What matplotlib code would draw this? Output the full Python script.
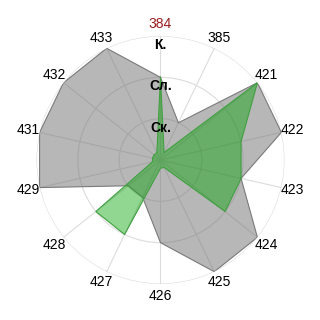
import numpy as np
import matplotlib.pyplot as plt

plt.rcParams['font.family'] = ['Liberation Sans', 'DejaVu Sans']

# -----------------------------
# Data
# -----------------------------
categories = ['384', '385', '421', '422', '423', '424', '425',
              '426', '427', '428', '429', '431', '432', '433']
gray_vals = [2, 1, 3, 3, 2, 3, 3, 2, 1, 1, 3, 3, 3, 3]
green_vals = [2, 0.2, 3, 2, 2, 2, 0.2, 0.2, 2, 2, 0.2, 0.2, 0.2, 0.2]
ring_labels = ['Ск.', 'Сл.', 'К.']
ring_levels = [1, 2, 3]

n = len(categories)
angles = np.arange(n) * 2 * np.pi / n
theta = np.append(angles, angles[0])


def closed(vals):
    return np.append(vals, vals[0])


# -----------------------------
# Plot
# -----------------------------
fig = plt.figure(figsize=(3.2, 3.2), dpi=100)
ax = fig.add_axes([0.114, 0.1125, 0.775, 0.775], projection='polar')
ax.set_theta_zero_location('N')
ax.set_theta_direction(-1)
ax.set_ylim(0, 3)

ax.fill(theta, closed(gray_vals), color='#7a7a7a', alpha=0.54, zorder=2, lw=0)
ax.plot(theta, closed(gray_vals), color='#7a7a7a', lw=0.8, zorder=3)
ax.fill(theta, closed(green_vals), color='#00a000', alpha=0.43, zorder=4, lw=0)
ax.plot(theta, closed(green_vals), color='#40a040', lw=0.8, zorder=5)

ax.set_xticks(angles)
ax.set_xticklabels([])
ax.set_yticks(ring_levels)
ax.set_yticklabels([])
ax.grid(True, color='#dcdcdc', lw=0.8)
ax.spines['polar'].set_visible(False)

# category labels just outside the outer ring
for i, (a, lab) in enumerate(zip(angles, categories)):
    ax.text(a, 3.28, lab, ha='center', va='center', fontsize=10,
            color='#9b1c1c' if i == 0 else 'black', clip_on=False)

for lvl, lab in zip(ring_levels, ring_labels):
    ax.text(0, lvl - 0.22, lab, ha='center', va='center',
            fontsize=10, fontweight='bold', zorder=6)

fig.savefig('out.png', dpi=100)
